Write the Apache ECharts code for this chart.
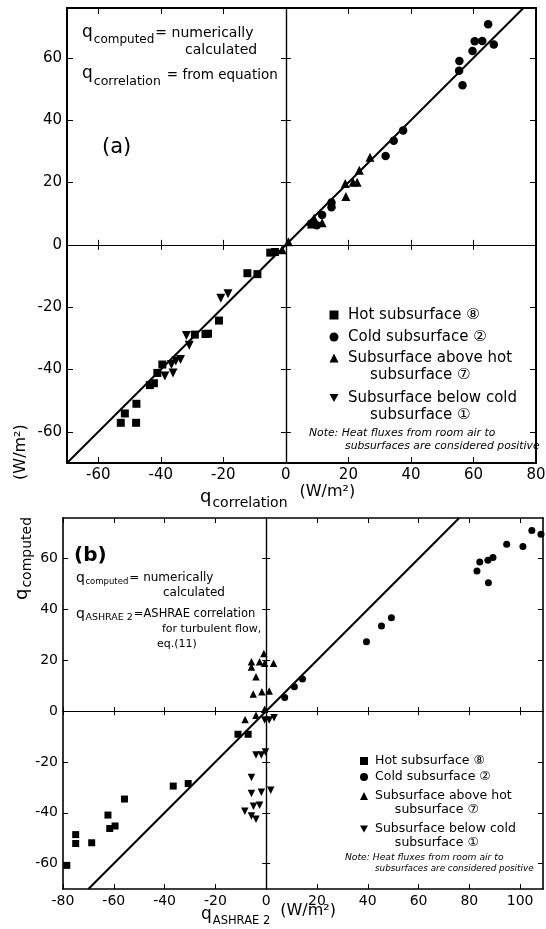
<!DOCTYPE html>
<html>
<head>
<meta charset="utf-8">
<script src="https://cdn.jsdelivr.net/npm/echarts@6/dist/echarts.min.js"></script>
<style>html,body{margin:0;padding:0;background:#fff}#chart{width:546px;height:929px}</style>
</head>
<body>
<div id="chart"></div>
<script>
// ================= DATA =================
const seriesNames = ['Hot subsurface \u2467', 'Cold subsurface \u2461', 'Subsurface above hot subsurface \u2466', 'Subsurface below cold subsurface \u2460'];

// Panel (a): q_computed vs q_correlation  [x, y]
const hotA = [[-5.0,-2.5],[-3.5,-2.3],[-12.3,-9.1],[-9.1,-9.4],[-21.4,-24.3],[-29.1,-28.8],[-25.7,-28.6],[-24.9,-28.5],[-39.5,-38.4],[-41.1,-41.1],[-43.5,-45.0],[-42.2,-44.4],[-51.5,-54.1],[-52.8,-57.1],[-47.8,-51.0],[-47.9,-57.1]];
const coldA = [[64.7,70.8],[60.4,65.3],[62.8,65.4],[66.5,64.3],[59.7,62.2],[55.5,59.0],[55.4,55.9],[56.5,51.2],[37.5,36.7],[34.5,33.4],[31.9,28.5],[14.6,13.6],[14.6,12.1],[11.6,9.6],[9.9,6.3],[8.0,6.8]];
const aboveA = [[26.9,28.1],[23.5,23.9],[19.0,19.7],[21.5,20.1],[22.8,20.1],[19.2,15.5],[9.0,8.5],[8.2,6.7],[11.6,7.1],[0.8,1.0],[-1.2,-1.6]];
const belowA = [[-20.8,-17.1],[-18.5,-15.7],[-31.8,-29.1],[-30.9,-32.2],[-36.6,-38.4],[-35.2,-37.3],[-33.7,-36.8],[-36.1,-41.1],[-38.7,-42.1]];
const identityA = [[-70,-70],[76,76]];

// Panel (b): q_computed vs q_ASHRAE 2  [x, y]
const hotB = [[-11.1,-9.1],[-7.1,-9.1],[-36.6,-29.5],[-30.7,-28.5],[-55.8,-34.6],[-62.3,-40.9],[-61.6,-46.2],[-59.5,-45.2],[-75.0,-48.6],[-75.0,-52.1],[-68.7,-51.8],[-78.5,-60.7]];
const coldB = [[104.6,71.1],[108.2,69.6],[94.7,65.7],[101.1,64.8],[89.3,60.5],[87.3,59.4],[84.1,58.7],[83.0,55.1],[87.5,50.5],[49.3,36.7],[45.4,33.5],[39.5,27.3],[7.3,5.4],[11.1,9.6],[14.3,12.6]];
const aboveB = [[-0.9,22.7],[-5.8,19.4],[-5.8,17.4],[-2.6,19.4],[-0.6,18.8],[2.9,18.8],[-4.0,13.5],[-5.1,6.7],[-1.7,7.6],[1.2,7.9],[-8.3,-3.3],[-4.0,-1.6],[-0.6,0.7]];
const belowB = [[-8.4,-39.4],[-5.8,-41.3],[-4.0,-42.6],[-5.0,-37.4],[-2.6,-37.0],[-5.8,-32.4],[-1.9,-31.9],[1.8,-31.1],[-5.8,-26.1],[-4.0,-17.3],[-1.9,-17.3],[-0.3,-16.1],[-0.6,-3.5],[1.2,-3.5],[3.1,-2.6]];
const identityB = [[-70,-70],[76,76]];

// Axis extents and tick labels
const xRangeA = [-70, 80];
const yRangeA = [-70, 76];
const xTicksA = [-60, -40, -20, 0, 20, 40, 60, 80];
const yTicksA = [-60, -40, -20, 0, 20, 40, 60];
const xRangeB = [-80, 109];
const yRangeB = [-70, 76];
const xTicksB = [-80, -60, -40, -20, 0, 20, 40, 60, 80, 100];
const yTicksB = [-60, -40, -20, 0, 20, 40, 60];

// ================= RENDER =================
const FONT = 'DejaVu Sans';
const DOWN_TRI = 'path://M0,0L10,0L5,8.66Z';
const mctx = document.createElement('canvas').getContext('2d');
function tw(text, size, weight, style) {
  mctx.font = (style || 'normal') + ' ' + (weight || 'normal') + ' ' + size + 'px "' + FONT + '"';
  return mctx.measureText(text).width;
}
function richLine(x, y, parts, rotation) {
  let cx = 0;
  const children = parts.map(function (p) {
    cx += (p.dx || 0);
    const el = {
      type: 'text', x: cx, y: p.dy || 0,
      style: { text: p.text, fontFamily: FONT, fontSize: p.size, fontWeight: p.weight || 'normal',
        fontStyle: p.style || 'normal', fill: '#000', align: 'left', verticalAlign: 'middle' }
    };
    cx += tw(p.text, p.size, p.weight, p.style);
    return el;
  });
  return { type: 'group', x: x, y: y, rotation: rotation || 0, children: children, silent: true };
}
function txt(x, y, text, size, extra) {
  return { type: 'text', x: x, y: y, silent: true,
    style: Object.assign({ text: text, fontFamily: FONT, fontSize: size, fill: '#000', align: 'left', verticalAlign: 'middle' }, extra || {}) };
}

function makeAxes(dim, grid, range, ticks, o) {
  const nz = ticks.filter(function (v) { return v !== 0; });
  const isX = dim === 'x';
  const base = { type: 'value', gridIndex: grid, min: range[0], max: range[1], splitLine: { show: false } };
  const tickStyle = { color: '#000', width: 1 };
  return [
    Object.assign({}, base, {
      position: isX ? 'bottom' : 'left',
      axisLine: { show: true, onZero: false, lineStyle: { color: '#000', width: o.border } },
      axisTick: { show: true, inside: true, length: o.tick, customValues: nz, lineStyle: tickStyle },
      axisLabel: { show: true, customValues: ticks, color: '#000', fontFamily: FONT, fontSize: o.font, margin: o.margin }
    }),
    Object.assign({}, base, {
      position: isX ? 'top' : 'right',
      axisLine: { show: true, onZero: false, lineStyle: { color: '#000', width: o.border2 } },
      axisTick: { show: true, inside: true, length: o.tick, customValues: nz, lineStyle: tickStyle },
      axisLabel: { show: false }
    }),
    Object.assign({}, base, {
      position: isX ? 'bottom' : 'left',
      axisLine: { show: true, onZero: true, lineStyle: { color: '#000', width: o.zero } },
      axisTick: { show: true, inside: true, length: o.cross, customValues: nz, lineStyle: tickStyle },
      axisLabel: { show: false }
    }),
    Object.assign({}, base, {
      position: isX ? 'bottom' : 'left',
      axisLine: { show: true, onZero: true, lineStyle: { color: '#000', width: o.zero } },
      axisTick: { show: true, inside: false, length: o.cross, customValues: nz, lineStyle: tickStyle },
      axisLabel: { show: false }
    })
  ];
}

const optsA = { border: 2, border2: 2, tick: 6, cross: 5, zero: 1.2, font: 15, margin: 5 };
const optsB = { border: 1.6, border2: 1.6, tick: 5, cross: 4, zero: 1.2, font: 14, margin: 5 };

function scatter(name, data, xi, yi, symbol, size, rot) {
  return { type: 'scatter', name: name, data: data, xAxisIndex: xi, yAxisIndex: yi, symbol: symbol,
    symbolSize: size, symbolRotate: rot || 0, itemStyle: { color: '#000', opacity: 1 }, emphasis: { disabled: true }, z: 3 };
}
function identity(name, data, xi, yi) {
  return { type: 'line', name: name, data: data, xAxisIndex: xi, yAxisIndex: yi, symbol: 'none',
    lineStyle: { color: '#000', width: 2 }, silent: true, z: 2, emphasis: { disabled: true } };
}

// legend display text (leading blank line keeps the icon level with the first text line)
const displayA = {};
displayA[seriesNames[0]] = 'Hot subsurface \u2467';
displayA[seriesNames[1]] = 'Cold subsurface \u2461';
displayA[seriesNames[2]] = '\nSubsurface above hot\n    \u2009subsurface \u2466';
displayA[seriesNames[3]] = '\nSubsurface below cold\n    \u2009subsurface \u2460';
const displayB = {};
displayB[seriesNames[0]] = 'Hot subsurface \u2467';
displayB[seriesNames[1]] = 'Cold subsurface \u2461';
displayB[seriesNames[2]] = '\nSubsurface above hot\n     subsurface \u2466';
displayB[seriesNames[3]] = '\nSubsurface below cold\n     subsurface \u2460';

function legend(left, top, names, icons, size, fs, lh, padLeft, gap, disp) {
  return {
    orient: 'vertical', left: left, top: top, padding: 0, itemGap: gap,
    itemWidth: size, itemHeight: size, selectedMode: false,
    itemStyle: { opacity: 1 },
    data: names.map(function (n, i) { return { name: n, icon: icons[i] }; }),
    formatter: function (n) { return disp[n]; },
    textStyle: { fontFamily: FONT, fontSize: fs, lineHeight: lh, color: '#000', padding: [0, 0, 0, padLeft] }
  };
}

const chart = echarts.init(document.getElementById('chart'), null, { renderer: 'canvas' });
const option = {
  animation: false,
  backgroundColor: '#fff',
  textStyle: { fontFamily: FONT, color: '#000' },
  grid: [
    { left: 67, top: 8, width: 469, height: 455, outerBoundsMode: 'none', containLabel: false },
    { left: 63, top: 518, width: 480, height: 371, outerBoundsMode: 'none', containLabel: false }
  ],
  xAxis: makeAxes('x', 0, xRangeA, xTicksA, optsA).concat(makeAxes('x', 1, xRangeB, xTicksB, optsB)),
  yAxis: makeAxes('y', 0, yRangeA, yTicksA, optsA).concat(makeAxes('y', 1, yRangeB, yTicksB, optsB)),
  legend: [
    legend(329.5, 306.5, [seriesNames[0], seriesNames[1]], ['rect', 'circle'], 9, 15, 17, 4.5, 5, displayA),
    legend(329.5, 332.5, [seriesNames[2], seriesNames[3]], ['triangle', DOWN_TRI], 9, 15, 17, 4.5, -11, displayA),
    legend(360, 754, [seriesNames[0], seriesNames[1]], ['rect', 'circle'], 8, 12.5, 14, 2, 2, displayB),
    legend(360, 775, [seriesNames[2], seriesNames[3]], ['triangle', DOWN_TRI], 8, 12.5, 14, 2, -9, displayB)
  ],
  series: [
    identity('q computed = q correlation', identityA, 0, 0),
    scatter(seriesNames[0], hotA, 0, 0, 'rect', 8),
    scatter(seriesNames[1], coldA, 0, 0, 'circle', 8.5),
    scatter(seriesNames[2], aboveA, 0, 0, 'triangle', 9),
    scatter(seriesNames[3], belowA, 0, 0, 'triangle', 9, 180),
    identity('q computed = q ASHRAE 2', identityB, 4, 4),
    scatter(seriesNames[0], hotB, 4, 4, 'rect', 7),
    scatter(seriesNames[1], coldB, 4, 4, 'circle', 7),
    scatter(seriesNames[2], aboveB, 4, 4, 'triangle', 7.5),
    scatter(seriesNames[3], belowB, 4, 4, 'triangle', 7.5, 180)
  ],
  graphic: [
    // panel (a) annotations
    richLine(82, 33, [{ text: 'q', size: 17 }, { text: 'computed', size: 12, dx: 1, dy: 7 }, { text: '= numerically', size: 14, dx: 1, dy: 0 }]),
    txt(185, 50, 'calculated', 14),
    richLine(82, 74, [{ text: 'q', size: 17 }, { text: 'correlation', size: 12.5, dx: 1, dy: 8 }, { text: '= from equation', size: 13.5, dx: 6, dy: 1 }]),
    txt(102, 148, '(a)', 21),
    txt(309, 433, 'Note: Heat fluxes from room air to', 10.8, { fontStyle: 'italic' }),
    txt(345, 446, 'subsurfaces are considered positive', 10.8, { fontStyle: 'italic' }),
    // panel (b) annotations
    txt(74, 556, '(b)', 20, { fontWeight: 'bold' }),
    richLine(76, 578, [{ text: 'q', size: 14 }, { text: 'computed', size: 8.5, dx: 0.5, dy: 4 }, { text: '= numerically', size: 12, dx: 1, dy: 0 }]),
    txt(163, 593, 'calculated', 12),
    richLine(76, 614, [{ text: 'q', size: 14 }, { text: 'ASHRAE 2', size: 9.5, dx: 0.5, dy: 4 }, { text: '=ASHRAE correlation', size: 11.5, dx: 1, dy: 0 }]),
    txt(162, 629, 'for turbulent flow,', 11),
    txt(157, 644, 'eq.(11)', 11),
    txt(345, 858, 'Note: Heat fluxes from room air to', 9.2, { fontStyle: 'italic' }),
    txt(375, 869, 'subsurfaces are considered positive', 8.8, { fontStyle: 'italic' }),
    // axis names
    richLine(200, 497, [{ text: 'q', size: 18 }, { text: 'correlation', size: 14, dx: 1, dy: 6 }, { text: '(W/m\u00b2)', size: 16, dx: 12, dy: -5 }]),
    richLine(201, 915, [{ text: 'q', size: 17 }, { text: 'ASHRAE 2', size: 11.5, dx: 1, dy: 6 }, { text: '(W/m\u00b2)', size: 16, dx: 10, dy: -4 }]),
    richLine(22, 600, [{ text: 'q', size: 18 }, { text: 'computed', size: 14, dx: 1, dy: 5 }, { text: '(W/m\u00b2)', size: 16, dx: 37, dy: -1 }], Math.PI / 2)
  ]
};
chart.setOption(option);
</script>
</body>
</html>
